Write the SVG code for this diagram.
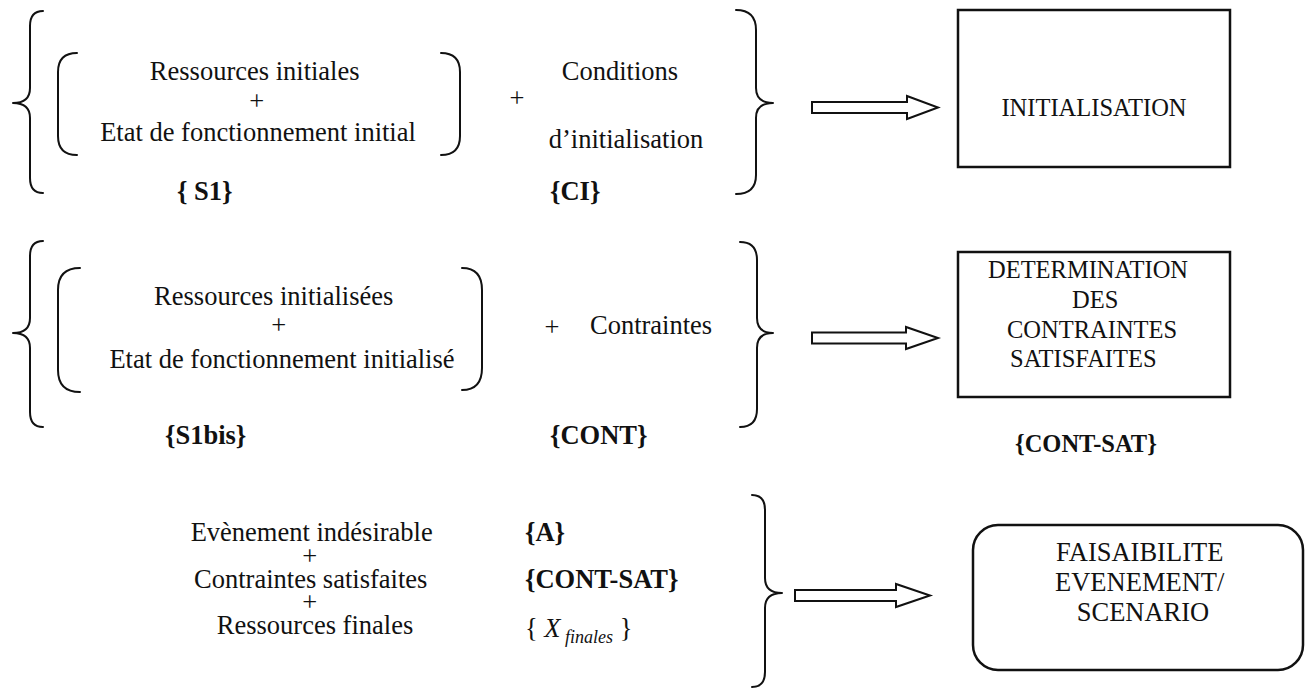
<svg xmlns="http://www.w3.org/2000/svg" width="1310" height="688" viewBox="0 0 1310 688">
  <style>
    text { font-family: "Times New Roman", Tinos, "Liberation Serif", "DejaVu Serif", "Noto Serif", serif; font-size: 26.5px; fill: #111; }
    .c { text-anchor: middle; }
    .b { font-weight: bold; }
    .cap { font-size: 24.5px; }
    .br { fill: none; stroke: #111; stroke-width: 2; stroke-linecap: round; stroke-linejoin: round; }
    .box { fill: #fff; stroke: #111; stroke-width: 2.5; }
    .arrow { fill: #fff; stroke: #111; stroke-width: 2; stroke-linejoin: miter; }
  </style>
  <rect width="1310" height="688" fill="#fff"/>

  <!-- Step 1: initial state and initialisation conditions -->
  <g id="inputs-init">
    <path class="br" d="M43,11 Q30,11 30,26 L30,88 Q30,103 13,103 Q30,103 30,118 L30,178 Q30,193 43,193"/>
    <path class="br" d="M77,53 Q58,53 58,72 L58,136 Q58,155 77,155"/>
    <path class="br" d="M441,53 Q460,53 460,72 L460,136 Q460,155 441,155"/>
    <text class="c">
      <tspan x="258" y="80">Ressources initiales</tspan>
      <tspan x="260" y="110">+</tspan>
      <tspan x="258" y="141">Etat de fonctionnement initial</tspan>
    </text>
    <text class="b" x="177" y="200">{ S1}</text>
    <text class="c" x="517" y="107">+</text>
    <text class="c" x="620" y="80">Conditions</text>
    <text class="c" x="626" y="148">d’initialisation</text>
    <text class="b" x="550" y="200">{CI}</text>
    <path class="br" d="M736,10 Q756,10 756,30 L756,88 Q756,103 773,103 Q756,103 756,118 L756,175 Q756,194 736,194"/>
  </g>

  <g id="initialisation">
    <rect class="box" x="958" y="10" width="272" height="157"/>
    <text class="c cap" x="1094" y="116">INITIALISATION</text>
  </g>

  <!-- Step 2: initialised state and constraints -->
  <g id="inputs-constraints">
    <path class="br" d="M43,241 Q30,241 30,256 L30,318 Q30,333 13,333 Q30,333 30,348 L30,412 Q30,427 43,427"/>
    <path class="br" d="M80,268 Q58,268 58,290 L58,370 Q58,392 80,392"/>
    <path class="br" d="M462,268 Q482,268 482,290 L482,368 Q482,390 462,390"/>
    <text class="c">
      <tspan x="277" y="305">Ressources initialisées</tspan>
      <tspan x="282" y="334">+</tspan>
      <tspan x="282" y="368">Etat de fonctionnement initialisé</tspan>
    </text>
    <text class="b" x="165" y="444">{S1bis}</text>
    <text class="c" x="552" y="336">+</text>
    <text x="590" y="334">Contraintes</text>
    <text class="b" x="550" y="444">{CONT}</text>
    <path class="br" d="M740,242 Q757,242 757,260 L757,318 Q757,333 773,333 Q757,333 757,348 L757,409 Q757,427 740,427"/>
  </g>

  <g id="determination">
    <rect class="box" x="958" y="252" width="272" height="145"/>
    <text class="cap">
      <tspan x="988" y="278">DETERMINATION</tspan>
      <tspan x="1072" y="308">DES</tspan>
      <tspan x="1007" y="338">CONTRAINTES</tspan>
      <tspan x="1010" y="367">SATISFAITES</tspan>
    </text>
    <text class="b cap" x="1015" y="452">{CONT-SAT}</text>
  </g>

  <!-- Step 3: undesirable event, satisfied constraints, final resources -->
  <g id="inputs-event">
    <text class="c">
      <tspan x="315" y="541">Evènement indésirable</tspan>
      <tspan x="313" y="565">+</tspan>
      <tspan x="314" y="588">Contraintes satisfaites</tspan>
      <tspan x="313" y="611">+</tspan>
      <tspan x="315" y="634">Ressources finales</tspan>
    </text>
    <text class="b" x="525" y="541">{A}</text>
    <text class="b" x="525" y="588">{CONT-SAT}</text>
    <text x="525" y="637">{ <tspan font-style="italic">X</tspan><tspan font-style="italic" font-size="18" dy="6"> finales</tspan><tspan dy="-6"> }</tspan></text>
    <path class="br" d="M752,495 Q765,495 765,510 L765,578 Q765,593 782,593 Q765,593 765,608 L765,672 Q765,687 752,687"/>
  </g>

  <g id="faisabilite">
    <rect class="box" x="973" y="525" width="330" height="145" rx="25" ry="25"/>
    <text class="c">
      <tspan x="1143" y="561">FAISAIBILITE</tspan>
      <tspan x="1143" y="591">EVENEMENT/</tspan>
      <tspan x="1143" y="621">SCENARIO</tspan>
    </text>
  </g>

  <!-- Hollow block arrows -->
  <g id="connectors">
    <polygon class="arrow" points="812,102 907,102 907,96 938,107.5 907,119 907,113 812,113"/>
    <polygon class="arrow" points="812,332.5 906,332.5 906,327 938,338 906,349 906,343.5 812,343.5"/>
    <polygon class="arrow" points="795,590 896,590 896,584 930,595.5 896,607 896,601 795,601"/>
  </g>
</svg>
